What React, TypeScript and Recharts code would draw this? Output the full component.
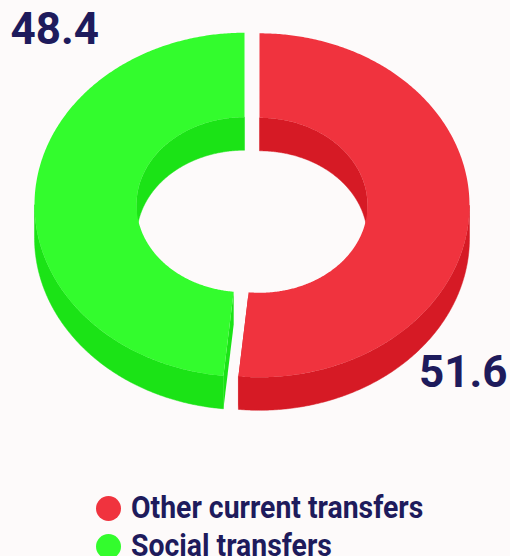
import React from 'react';
import { PieChart, Pie, Cell, Legend } from 'recharts';

const CATEGORIES = ['Other current transfers', 'Social transfers'];
const VALUES = [51.6, 48.4];
const TOP_COLORS = ['#f0333e', '#33fc2d'];
const SIDE_COLORS = ['#d61a25', '#1be316'];
const TEXT_COLOR = '#1e1b5c';

const data = CATEGORIES.map((name, i) => ({ name, value: VALUES[i] }));

if (typeof document !== 'undefined') {
  document.documentElement.style.overflow = 'hidden';
  document.body.style.margin = '0';
  document.body.style.overflow = 'hidden';
  document.body.style.background = '#fdfafa';
}

const DEPTH = 33;
const GAP = 7.5;
const RAD = Math.PI / 180;
const ryOf = (r: number) => 0.8284 * r - 2;

type Pt = [number, number];

function Slice3D(props: any) {
  const { cx, cy, innerRadius, outerRadius, startAngle, endAngle, midAngle, index, value } = props;
  const ri = innerRadius;
  const ro = outerRadius;
  const sx = GAP * Math.cos(midAngle * RAD);
  const sy = -GAP * Math.sin(midAngle * RAD) * 0.79;
  const P = (r: number, a: number, dz: number): Pt => [
    cx + sx + r * Math.cos(a * RAD),
    cy + sy - ryOf(r) * Math.sin(a * RAD) + dz,
  ];
  const arc = (r: number, a1: number, a2: number, dz: number): Pt[] => {
    const n = Math.max(2, Math.ceil(Math.abs(a2 - a1) / 0.5));
    const pts: Pt[] = [];
    for (let i = 0; i <= n; i++) pts.push(P(r, a1 + ((a2 - a1) * i) / n, dz));
    return pts;
  };
  const toPath = (pts: Pt[]) =>
    'M' + pts.map((p) => p[0].toFixed(2) + ',' + p[1].toFixed(2)).join('L') + 'Z';
  const lo = Math.min(startAngle, endAngle);
  const hi = Math.max(startAngle, endAngle);
  const ranges = (base: number) => {
    const out: [number, number][] = [];
    for (let k = -2; k <= 2; k++) {
      const a = Math.max(lo, base + 360 * k);
      const b = Math.min(hi, base + 180 + 360 * k);
      if (b > a) out.push([a, b]);
    }
    return out;
  };
  const outerFront = ranges(180).map(([a, b]) => toPath([...arc(ro, a, b, 0), ...arc(ro, b, a, DEPTH)]));
  const innerBack = ranges(0).map(([a, b]) => toPath([...arc(ri, a, b, 0), ...arc(ri, b, a, DEPTH)]));
  const radial = [startAngle, endAngle].map((a) =>
    toPath([P(ri, a, 0), P(ro, a, 0), P(ro, a, DEPTH), P(ri, a, DEPTH)])
  );
  const top = toPath([...arc(ro, startAngle, endAngle, 0), ...arc(ri, endAngle, startAngle, 0)]);
  const side = SIDE_COLORS[index % SIDE_COLORS.length];
  const topFill = TOP_COLORS[index % TOP_COLORS.length];

  const la = (midAngle - 45) * RAD;
  const lx = cx + 1.45 * ro * Math.cos(la) + 7;
  const ly = cy - 1.342 * ryOf(ro) * Math.sin(la) - 5;

  return (
    <g>
      {innerBack.map((d, i) => (
        <path key={'ib' + i} d={d} fill={side} stroke={side} strokeWidth={0.5} />
      ))}
      {radial.map((d, i) => (
        <path key={'rd' + i} d={d} fill={side} stroke="none" />
      ))}
      {outerFront.map((d, i) => (
        <path key={'of' + i} d={d} fill={side} stroke={side} strokeWidth={0.5} />
      ))}
      <path d={top} fill={topFill} stroke="none" />
      <text
        x={lx}
        y={ly}
        dy="0.355em"
        textAnchor="middle"
        fontFamily="Roboto, 'Liberation Sans', sans-serif"
        fontWeight={700}
        fontSize={44}
        fill={TEXT_COLOR}
      >
        {Number(value).toFixed(1)}
      </text>
    </g>
  );
}

function LegendContent(props: any) {
  const payload = props.payload || [];
  return (
    <div style={{ display: 'flex', flexDirection: 'column' }}>
      {payload.map((entry: any, i: number) => (
        <div key={i} style={{ display: 'flex', alignItems: 'center', height: 38 }}>
          <span
            style={{
              width: 25,
              height: 25,
              borderRadius: '50%',
              background: TOP_COLORS[i % TOP_COLORS.length],
              flex: 'none',
              marginTop: 2,
            }}
          />
          <span
            style={{
              marginLeft: 10,
              fontFamily: 'Roboto, sans-serif',
              fontWeight: 700,
              fontSize: 32,
              lineHeight: '38px',
              color: TEXT_COLOR,
              transform: 'scaleX(0.887)',
              transformOrigin: 'left center',
              whiteSpace: 'nowrap',
              display: 'inline-block',
            }}
          >
            {entry.value ?? CATEGORIES[i]}
          </span>
        </div>
      ))}
    </div>
  );
}

export default function App() {
  return (
    <PieChart width={510} height={556} margin={{ top: 0, right: 0, bottom: 0, left: 0 }}>
      <Pie
        data={data}
        dataKey="value"
        nameKey="name"
        cx={252}
        cy={205}
        innerRadius={108}
        outerRadius={210}
        startAngle={90}
        endAngle={-270}
        stroke="none"
        label={Slice3D}
        labelLine={false}
        isAnimationActive={false}
      >
        {data.map((d, i) => (
          <Cell key={d.name} fill={TOP_COLORS[i]} fillOpacity={0} />
        ))}
      </Pie>
      <Legend
        layout="horizontal"
        align="center"
        verticalAlign="middle"
        content={<LegendContent />}
        wrapperStyle={{ left: 96, top: 488, width: 'auto' }}
      />
    </PieChart>
  );
}
